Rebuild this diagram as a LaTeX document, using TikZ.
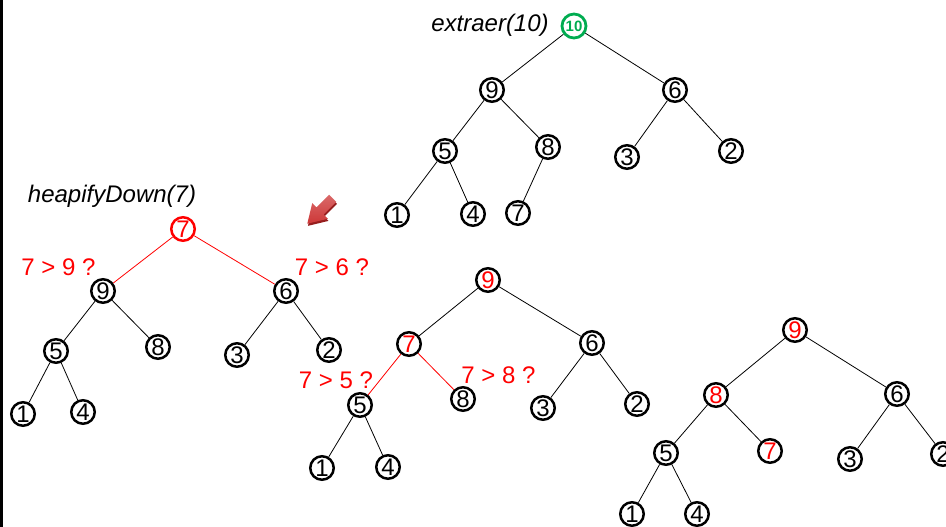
\documentclass[tikz,border=0pt]{standalone}
\usepackage{fontspec}
\setmainfont{Liberation Sans}
\definecolor{hgreen}{RGB}{0,172,80}
\definecolor{arrred}{RGB}{205,55,55}
\definecolor{arrdark}{RGB}{150,30,30}
\begin{document}
\begin{tikzpicture}[x=1pt,y=-1pt,
  hn/.style={circle, draw=black, line width=2.5pt, minimum size=23.5pt, inner sep=0pt, font=\fontsize{24}{24}\selectfont},
  rt/.style={text=red},
  rn/.style={draw=red, text=red},
  gn/.style={circle, draw=hgreen, text=hgreen, line width=2.8pt, minimum size=24pt, inner sep=0pt, font=\fontsize{15}{15}\selectfont\bfseries},
  edge/.style={draw=black, line width=0.8pt},
  redge/.style={draw=red, line width=0.8pt},
  lbl/.style={font=\fontsize{24}{24}\selectfont\itshape, inner sep=0pt},
  cmp/.style={text=red, font=\fontsize{24}{24}\selectfont, inner sep=0pt}]
\useasboundingbox (0,0) rectangle (946,527);
\clip (0,0) rectangle (946,527);
\fill[black] (0,0) rectangle (2.5,527);

% Tree 1
\node[gn] (a10) at (574,26) {10};
\node[lbl] (t1) at (490,25) {extraer(10)};
\node[hn] (a9) at (492,90) {9};
\node[hn] (a6) at (675,90) {6};
\node[hn] (a5) at (445,151) {5};
\node[hn] (a8) at (548,147) {8};
\node[hn] (a3) at (627,157) {3};
\node[hn] (a2) at (731,151) {2};
\node[hn] (a1) at (397,215) {1};
\node[hn] (a4) at (473,214) {4};
\node[hn] (a7) at (518,213) {7};
\draw[edge] (a10) -- (a9);
\draw[edge] (a10) -- (a6);
\draw[edge] (a9) -- (a5);
\draw[edge] (a9) -- (a8);
\draw[edge] (a6) -- (a3);
\draw[edge] (a6) -- (a2);
\draw[edge] (a5) -- (a1);
\draw[edge] (a5) -- (a4);
\draw[edge] (a8) -- (a7);

% Tree 2
\node[lbl] (t2) at (112,196) {heapifyDown(7)};
\node[hn,rn] (b7) at (183,229) {7};
\node[hn] (b9) at (103,291) {9};
\node[hn] (b6) at (286,291) {6};
\node[hn] (b5) at (56,351) {5};
\node[hn] (b8) at (158,347) {8};
\node[hn] (b3) at (237,355) {3};
\node[hn] (b2) at (329,350) {2};
\node[hn] (b1) at (23,414) {1};
\node[hn] (b4) at (83,412) {4};
\draw[redge] (b7) -- (b9);
\draw[redge] (b7) -- (b6);
\draw[edge] (b9) -- (b5);
\draw[edge] (b9) -- (b8);
\draw[edge] (b6) -- (b3);
\draw[edge] (b6) -- (b2);
\draw[edge] (b5) -- (b1);
\draw[edge] (b5) -- (b4);
\node[cmp] (q1) at (58.5,267) {7 > 9 ?};
\node[cmp] (q2) at (332,267) {7 > 6 ?};

% Arrow (points down-left)
\begin{scope}[shift={(320,211)}, rotate=-135, scale=1.0]
  \fill[arrdark] (-17,3) -- (1,3) -- (1,9) -- (19,-2) -- (1,-13) -- (1,-7) -- (-17,-7) -- cycle;
  \shade[top color=arrred!75!white, bottom color=arrred] (-18,-5) -- (0,-5) -- (0,-11) -- (18,0) -- (0,11) -- (0,5) -- (-18,5) -- cycle;
\end{scope}

% Tree 3
\node[hn,rt] (c9) at (488,280) {9};
\node[hn,rt] (c7) at (409,344) {7};
\node[hn] (c6) at (592,343) {6};
\node[hn] (c5) at (360,405) {5};
\node[hn] (c8) at (463,399) {8};
\node[hn] (c3) at (543,408) {3};
\node[hn] (c2) at (637,404) {2};
\node[hn] (c1) at (322,468) {1};
\node[hn] (c4) at (388,467) {4};
\draw[edge] (c9) -- (c7);
\draw[edge] (c9) -- (c6);
\draw[redge] (c7) -- (c5);
\draw[redge] (c7) -- (c8);
\draw[edge] (c6) -- (c3);
\draw[edge] (c6) -- (c2);
\draw[edge] (c5) -- (c1);
\draw[edge] (c5) -- (c4);
\node[cmp] (q3) at (336,380) {7 > 5 ?};
\node[cmp] (q4) at (498.5,375.5) {7 > 8 ?};

% Tree 4
\node[hn,rt] (d9) at (795,330) {9};
\node[hn,rt] (d8) at (716,395) {8};
\node[hn] (d6) at (897,394) {6};
\node[hn] (d5) at (666,453) {5};
\node[hn,rt] (d7) at (770,451) {7};
\node[hn] (d3) at (850,459) {3};
\node[hn] (d2) at (943,454) {2};
\node[hn] (d1) at (632,514) {1};
\node[hn] (d4) at (697,514) {4};
\draw[edge] (d9) -- (d8);
\draw[edge] (d9) -- (d6);
\draw[edge] (d8) -- (d5);
\draw[edge] (d8) -- (d7);
\draw[edge] (d6) -- (d3);
\draw[edge] (d6) -- (d2);
\draw[edge] (d5) -- (d1);
\draw[edge] (d5) -- (d4);
\end{tikzpicture}
\end{document}
